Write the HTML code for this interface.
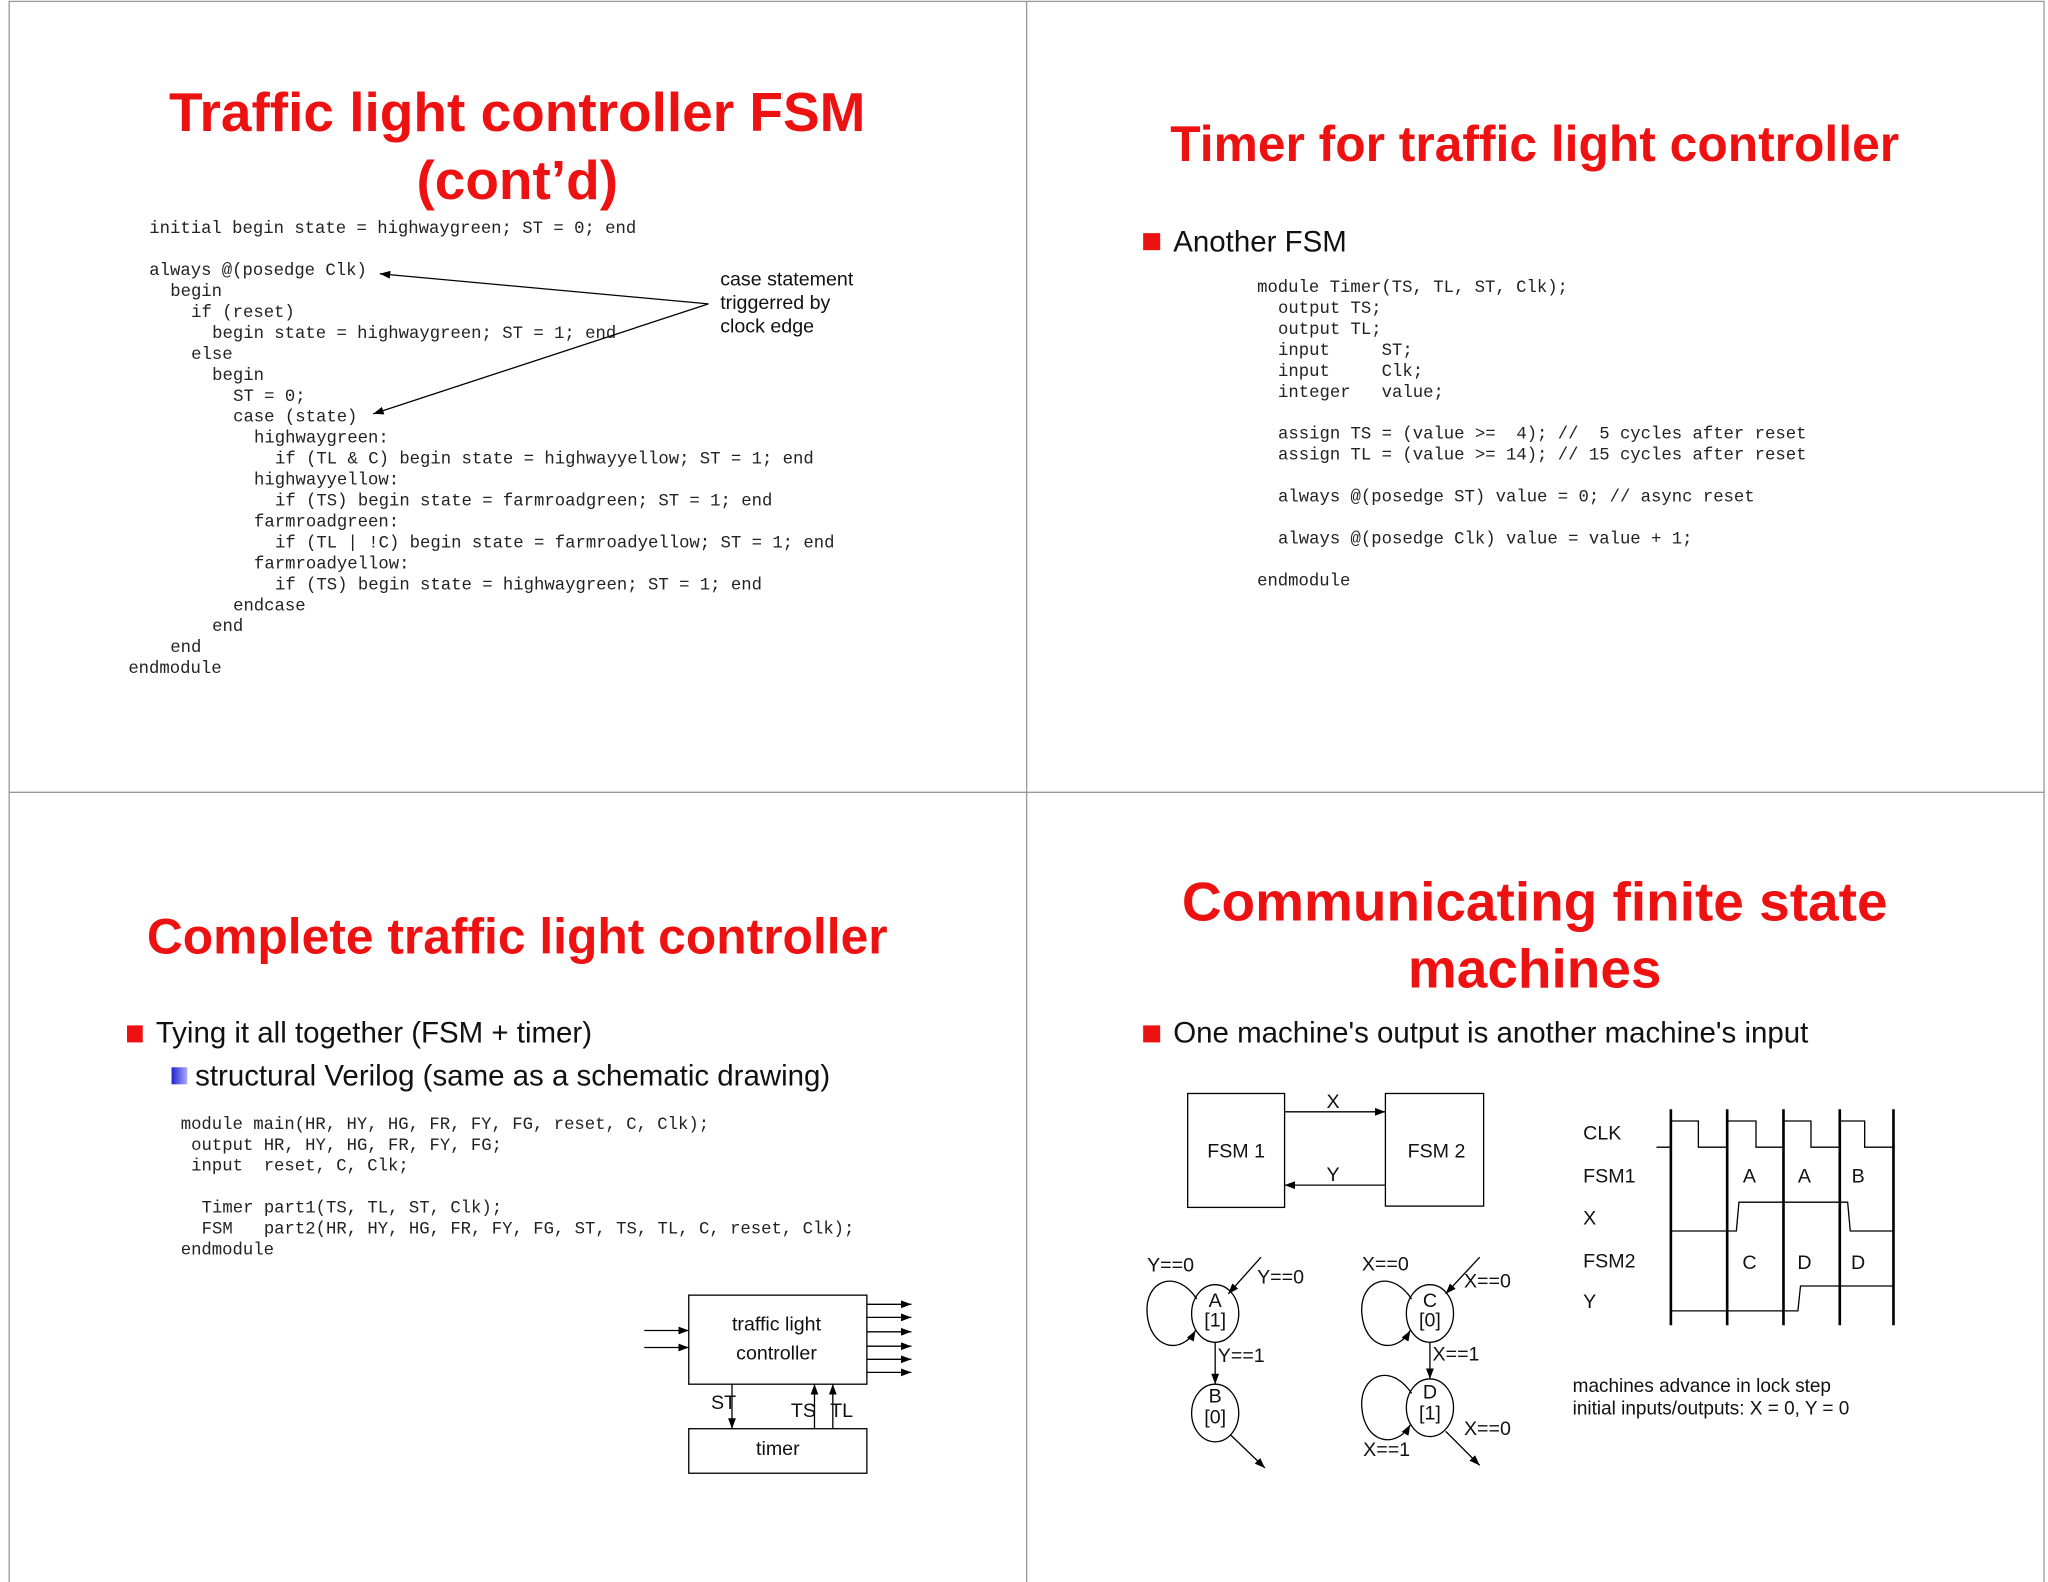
<!DOCTYPE html>
<html><head><meta charset="utf-8"><style>
html,body{margin:0;padding:0;background:#fff;}
svg{display:block;}
.t{font-family:"Liberation Sans",sans-serif;font-weight:bold;fill:#ee1111;font-size:42px;text-anchor:middle;}
.c{font-family:"Liberation Mono",monospace;font-size:13.2px;fill:#222;}
.s{font-family:"Liberation Sans",sans-serif;fill:#111;}
</style></head><body>
<svg width="2048" height="1582" viewBox="0 0 1564 1208" xmlns="http://www.w3.org/2000/svg">
<defs><marker id="a" markerWidth="8" markerHeight="6" refX="8" refY="3" orient="auto" markerUnits="userSpaceOnUse"><path d="M0,0 L8,3 L0,6z" fill="#000"/></marker>
<linearGradient id="g" x1="0" x2="1"><stop offset="0" stop-color="#2222cc"/><stop offset="1" stop-color="#aaaaff"/></linearGradient></defs>
<rect x="7" y="1" width="1554" height="1208" fill="none" stroke="#999" stroke-width="1"/>
<line x1="784" y1="1" x2="784" y2="1209" stroke="#999"/>
<line x1="7" y1="605" x2="1561" y2="605" stroke="#999"/>

<!-- Top-left -->
<text class="t" x="395" y="100">Traffic light controller FSM</text>
<text class="t" x="395" y="152">(cont’d)</text>
<g class="c">
<text x="114" y="178">initial begin state = highwaygreen; ST = 0; end</text>
<text x="114" y="210">always @(posedge Clk)</text>
<text x="130" y="226">begin</text>
<text x="146" y="242">if (reset)</text>
<text x="162" y="258">begin state = highwaygreen; ST = 1; end</text>
<text x="146" y="274">else</text>
<text x="162" y="290">begin</text>
<text x="178" y="306">ST = 0;</text>
<text x="178" y="322">case (state)</text>
<text x="194" y="338">highwaygreen:</text>
<text x="210" y="354">if (TL &amp; C) begin state = highwayyellow; ST = 1; end</text>
<text x="194" y="370">highwayyellow:</text>
<text x="210" y="386">if (TS) begin state = farmroadgreen; ST = 1; end</text>
<text x="194" y="402">farmroadgreen:</text>
<text x="210" y="418">if (TL | !C) begin state = farmroadyellow; ST = 1; end</text>
<text x="194" y="434">farmroadyellow:</text>
<text x="210" y="450">if (TS) begin state = highwaygreen; ST = 1; end</text>
<text x="178" y="466">endcase</text>
<text x="162" y="482">end</text>
<text x="130" y="498">end</text>
<text x="98" y="514">endmodule</text>
</g>
<g class="s" font-size="15">
<text x="550" y="218">case statement</text>
<text x="550" y="236">triggerred by</text>
<text x="550" y="254">clock edge</text>
</g>
<line x1="541" y1="232" x2="290" y2="209" stroke="#000" marker-end="url(#a)"/>
<line x1="541" y1="232" x2="285" y2="316" stroke="#000" marker-end="url(#a)"/>

<!-- Top-right -->
<text class="t" x="1172" y="123" style="font-size:38px">Timer for traffic light controller</text>
<rect x="873" y="178" width="13" height="13" fill="#ee1111"/>
<text class="s" x="896" y="192" font-size="22.5">Another FSM</text>
<g class="c">
<text x="960" y="223">module Timer(TS, TL, ST, Clk);</text>
<text x="976" y="239">output TS;</text>
<text x="976" y="255">output TL;</text>
<text x="976" y="271">input&#160;&#160;&#160;&#160; ST;</text>
<text x="976" y="287">input&#160;&#160;&#160;&#160; Clk;</text>
<text x="976" y="303">integer&#160;&#160; value;</text>
<text x="976" y="335">assign TS = (value &gt;=&#160; 4); //&#160; 5 cycles after reset</text>
<text x="976" y="351">assign TL = (value &gt;= 14); // 15 cycles after reset</text>
<text x="976" y="383">always @(posedge ST) value = 0; // async reset</text>
<text x="976" y="415">always @(posedge Clk) value = value + 1;</text>
<text x="960" y="447">endmodule</text>
</g>

<!-- Bottom-left -->
<text class="t" x="395" y="728" style="font-size:38px">Complete traffic light controller</text>
<rect x="97" y="783" width="12" height="13" fill="#ee1111"/>
<text class="s" x="119" y="796" font-size="22.5">Tying it all together (FSM + timer)</text>
<rect x="131" y="815" width="12" height="13" fill="url(#g)"/>
<text class="s" x="149" y="829" font-size="22.5">structural Verilog (same as a schematic drawing)</text>
<g class="c">
<text x="138" y="862">module main(HR, HY, HG, FR, FY, FG, reset, C, Clk);</text>
<text x="146" y="878">output HR, HY, HG, FR, FY, FG;</text>
<text x="146" y="894">input&#160; reset, C, Clk;</text>
<text x="154" y="926">Timer part1(TS, TL, ST, Clk);</text>
<text x="154" y="942">FSM&#160;&#160; part2(HR, HY, HG, FR, FY, FG, ST, TS, TL, C, reset, Clk);</text>
<text x="138" y="958">endmodule</text>
</g>
<g stroke="#000" fill="none">
<rect x="526" y="989" width="136" height="68"/>
<rect x="526" y="1091" width="136" height="34"/>
<line x1="492" y1="1016" x2="526" y2="1016" marker-end="url(#a)"/>
<line x1="492" y1="1029" x2="526" y2="1029" marker-end="url(#a)"/>
<line x1="662" y1="996" x2="696" y2="996" marker-end="url(#a)"/>
<line x1="662" y1="1006" x2="696" y2="1006" marker-end="url(#a)"/>
<line x1="662" y1="1017" x2="696" y2="1017" marker-end="url(#a)"/>
<line x1="662" y1="1028" x2="696" y2="1028" marker-end="url(#a)"/>
<line x1="662" y1="1038" x2="696" y2="1038" marker-end="url(#a)"/>
<line x1="662" y1="1048" x2="696" y2="1048" marker-end="url(#a)"/>
<line x1="559" y1="1057" x2="559" y2="1091" marker-end="url(#a)"/>
<line x1="622" y1="1091" x2="622" y2="1057" marker-end="url(#a)"/>
<line x1="636" y1="1091" x2="636" y2="1057" marker-end="url(#a)"/>
</g>
<g class="s" font-size="15">
<text x="593" y="1016" text-anchor="middle">traffic light</text>
<text x="593" y="1038" text-anchor="middle">controller</text>
<text x="594" y="1111" text-anchor="middle">timer</text>
<text x="543" y="1076">ST</text>
<text x="604" y="1082">TS</text>
<text x="634" y="1082">TL</text>
</g>

<!-- Bottom-right -->
<text class="t" x="1172" y="703">Communicating finite state</text>
<text class="t" x="1172" y="754">machines</text>
<rect x="873" y="783" width="13" height="13" fill="#ee1111"/>
<text class="s" x="896" y="796" font-size="22.5">One machine's output is another machine's input</text>
<g stroke="#000" fill="none">
<rect x="907" y="835" width="74" height="87"/>
<rect x="1058" y="835" width="75" height="86"/>
<line x1="981" y1="849" x2="1058" y2="849" marker-end="url(#a)"/>
<line x1="1058" y1="905" x2="981" y2="905" marker-end="url(#a)"/>
<ellipse cx="928" cy="1003" rx="18" ry="22"/>
<ellipse cx="928" cy="1079" rx="18" ry="22"/>
<path d="M914,992 C898,968 874,978 876,1003 C878,1030 902,1035 913,1016" marker-end="url(#a)"/>
<line x1="963" y1="960" x2="938" y2="988" marker-end="url(#a)"/>
<line x1="928" y1="1025" x2="928" y2="1057" marker-end="url(#a)"/>
<line x1="940" y1="1096" x2="966" y2="1121" marker-end="url(#a)"/>
<ellipse cx="1092" cy="1003" rx="18" ry="22"/>
<ellipse cx="1092" cy="1075" rx="18" ry="22"/>
<path d="M1078,992 C1062,968 1038,978 1040,1003 C1042,1030 1066,1035 1077,1016" marker-end="url(#a)"/>
<path d="M1078,1064 C1062,1040 1038,1050 1040,1075 C1042,1102 1066,1107 1077,1088" marker-end="url(#a)"/>
<line x1="1130" y1="960" x2="1104" y2="988" marker-end="url(#a)"/>
<line x1="1092" y1="1025" x2="1092" y2="1053" marker-end="url(#a)"/>
<line x1="1104" y1="1093" x2="1130" y2="1119" marker-end="url(#a)"/>
</g>
<g class="s" font-size="15">
<text x="944" y="884" text-anchor="middle">FSM 1</text>
<text x="1097" y="884" text-anchor="middle">FSM 2</text>
<text x="1018" y="846" text-anchor="middle">X</text>
<text x="1018" y="902" text-anchor="middle">Y</text>
<text x="876" y="971">Y==0</text>
<text x="960" y="980">Y==0</text>
<text x="928" y="998" text-anchor="middle">A</text>
<text x="928" y="1013" text-anchor="middle">[1]</text>
<text x="930" y="1040">Y==1</text>
<text x="928" y="1071" text-anchor="middle">B</text>
<text x="928" y="1087" text-anchor="middle">[0]</text>
<text x="1040" y="970">X==0</text>
<text x="1118" y="983">X==0</text>
<text x="1092" y="998" text-anchor="middle">C</text>
<text x="1092" y="1013" text-anchor="middle">[0]</text>
<text x="1094" y="1039">X==1</text>
<text x="1092" y="1068" text-anchor="middle">D</text>
<text x="1092" y="1084" text-anchor="middle">[1]</text>
<text x="1041" y="1112">X==1</text>
<text x="1118" y="1096">X==0</text>
<text x="1209" y="870">CLK</text>
<text x="1209" y="903">FSM1</text>
<text x="1209" y="935">X</text>
<text x="1209" y="968">FSM2</text>
<text x="1209" y="999">Y</text>
<text x="1336" y="903" text-anchor="middle">A</text>
<text x="1378" y="903" text-anchor="middle">A</text>
<text x="1419" y="903" text-anchor="middle">B</text>
<text x="1336" y="969" text-anchor="middle">C</text>
<text x="1378" y="969" text-anchor="middle">D</text>
<text x="1419" y="969" text-anchor="middle">D</text>
<text x="1201" y="1063" font-size="14.5">machines advance in lock step</text>
<text x="1201" y="1080" font-size="14.5">initial inputs/outputs: X = 0, Y = 0</text>
</g>
<g stroke="#000" fill="none">
<g stroke-width="2">
<line x1="1276" y1="847" x2="1276" y2="1012"/>
<line x1="1319" y1="847" x2="1319" y2="1012"/>
<line x1="1362" y1="847" x2="1362" y2="1012"/>
<line x1="1405" y1="847" x2="1405" y2="1012"/>
<line x1="1446" y1="847" x2="1446" y2="1012"/>
</g>
<polyline points="1265,876 1276,876 1276,856 1297,856 1297,876 1319,876 1319,856 1341,856 1341,876 1362,876 1362,856 1383,856 1383,876 1405,876 1405,856 1424,856 1424,876 1446,876"/>
<polyline points="1276,940 1326,940 1328,918 1411,918 1413,940 1446,940"/>
<polyline points="1276,1001 1373,1001 1375,982 1446,982"/>
</g>
</svg>
</body></html>
